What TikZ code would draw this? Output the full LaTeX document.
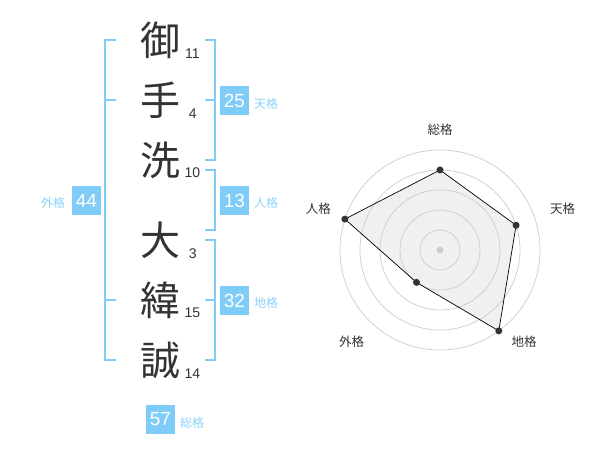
\documentclass[tikz,border=0pt]{standalone}
\usepackage{fontspec}
\setmainfont{Liberation Sans}
\newfontfamily\cjk{Noto Sans CJK JP}
\definecolor{ink}{HTML}{333333}
\definecolor{blu}{HTML}{80CCF8}
\definecolor{blulabel}{HTML}{8CD2F8}
\definecolor{ring}{HTML}{CCCCCC}
\definecolor{area}{HTML}{F0F0F0}
\tikzset{
  kanji/.style={inner sep=0pt, text=ink, font=\cjk\fontsize{40}{40}\selectfont},
  stroke/.style={inner sep=0pt, text=ink, font=\fontsize{14}{14}\selectfont},
  valbox/.style={fill=blu, text=white, minimum size=29pt, inner sep=0pt, font=\fontsize{19}{19}\selectfont},
  vallabel/.style={inner sep=0pt, text=blulabel, font=\cjk\fontsize{12}{12}\selectfont},
  brk/.style={draw=blu, line width=2pt},
  radlabel/.style={inner sep=0pt, text=ink, font=\cjk\fontsize{12.5}{12.5}\selectfont},
  rings/.style={draw=ring, line width=0.7pt},
  pt/.style={circle, fill=ink, inner sep=0pt, minimum size=7pt},
}
\begin{document}
\begin{tikzpicture}[x=1pt,y=-1pt]
\useasboundingbox (0,0) rectangle (600,470);
% name characters
\node[kanji] (k1) at (160,40) {御};
\node[kanji] (k2) at (160,100) {手};
\node[kanji] (k3) at (160,160) {洗};
\node[kanji] (k4) at (160,240) {大};
\node[kanji] (k5) at (160,300) {緯};
\node[kanji] (k6) at (160,360) {誠};
\node[stroke] (s1) at (192.3,53.3) {11};
\node[stroke] (s2) at (192.7,113.3) {4};
\node[stroke] (s3) at (192.3,172.7) {10};
\node[stroke] (s4) at (192.7,253.3) {3};
\node[stroke] (s5) at (192.3,312.7) {15};
\node[stroke] (s6) at (192.3,373.3) {14};
% brackets
\draw[brk] (205,40) -- (215,40) -- (215,160) -- (205,160);
\draw[brk] (205,100) -- (215,100);
\draw[brk] (205,170) -- (215,170) -- (215,230) -- (205,230);
\draw[brk] (205,240) -- (215,240) -- (215,360) -- (205,360);
\draw[brk] (205,300) -- (215,300);
\draw[brk] (116,40) -- (105,40) -- (105,360) -- (116,360);
\draw[brk] (105,100) -- (116,100);
\draw[brk] (105,300) -- (116,300);
% value boxes
\node[valbox] (v25) at (234.5,100.5) {25};
\node[vallabel] (l25) at (266,104) {天格};
\node[valbox] (v13) at (234.5,200.5) {13};
\node[vallabel] (l13) at (266,203) {人格};
\node[valbox] (v32) at (234.5,300.5) {32};
\node[vallabel] (l32) at (266,303) {地格};
\node[valbox] (v44) at (86.5,200.5) {44};
\node[vallabel] (l44) at (53,203) {外格};
\node[valbox] (v57) at (160.5,419) {57};
\node[vallabel] (l57) at (192,422.5) {総格};
% radar chart
\begin{scope}[shift={(440,250)}]
  \coordinate (p1) at (90:80pt);
  \coordinate (p2) at (18:80pt);
  \coordinate (p3) at (-54:100pt);
  \coordinate (p4) at (-126:40pt);
  \coordinate (p5) at (162:100pt);
  \fill[area] (p1) -- (p2) -- (p3) -- (p4) -- (p5) -- cycle;
  \foreach \r in {20,40,60,80,100} \draw[rings] (0,0) circle[radius=\r pt];
  \fill[ring] (0,0) circle[radius=3.5pt];
  \draw[draw=black, line width=0.7pt] (p1) -- (p2) -- (p3) -- (p4) -- (p5) -- cycle;
  \foreach \p in {p1,p2,p3,p4,p5} \node[pt] at (\p) {};
\end{scope}
\node[radlabel] (r1) at (440,130) {総格};
\node[radlabel] (r2) at (562.7,209) {天格};
\node[radlabel] (r3) at (524,342) {地格};
\node[radlabel] (r4) at (351.7,342) {外格};
\node[radlabel] (r5) at (318.3,209) {人格};
\end{tikzpicture}
\end{document}
